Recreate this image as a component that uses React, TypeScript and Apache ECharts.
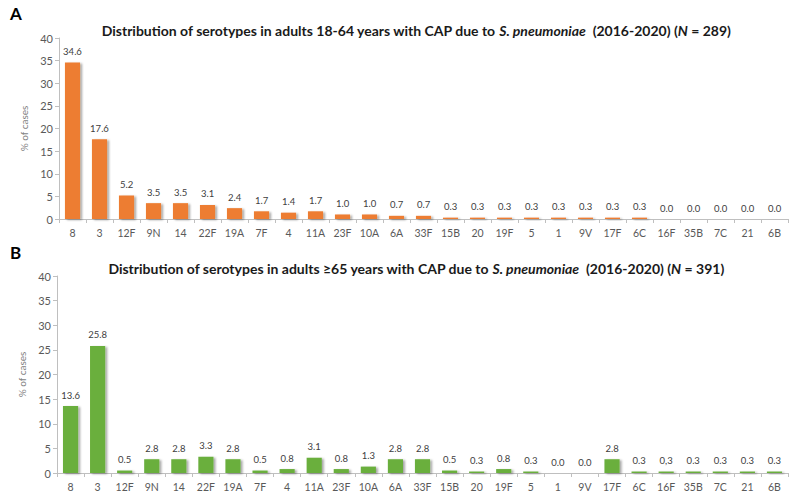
import React, { useEffect, useRef } from "react";
import * as echarts from "echarts";

const categories = ["8", "3", "12F", "9N", "14", "22F", "19A", "7F", "4", "11A", "23F", "10A", "6A", "33F", "15B", "20", "19F", "5", "1", "9V", "17F", "6C", "16F", "35B", "7C", "21", "6B"];
const valuesA = [34.6, 17.6, 5.2, 3.5, 3.5, 3.1, 2.4, 1.7, 1.4, 1.7, 1.0, 1.0, 0.7, 0.7, 0.3, 0.3, 0.3, 0.3, 0.3, 0.3, 0.3, 0.3, 0.0, 0.0, 0.0, 0.0, 0.0];
const valuesB = [13.6, 25.8, 0.5, 2.8, 2.8, 3.3, 2.8, 0.5, 0.8, 3.1, 0.8, 1.3, 2.8, 2.8, 0.5, 0.3, 0.8, 0.3, 0.0, 0.0, 2.8, 0.3, 0.3, 0.3, 0.3, 0.3, 0.3];
const labelsB = ["13.6", "25.8", "0.5", "2.8", "2.8", "3.3", "2.8", "0.5", "0.8", "3.1", "0.8", "1.3", "2.8", "2.8", "0.5", "0.3", "0.8", "0.3", "0.0", "0.0", "2.8", "0.3", "0,3", "0.3", "0.3", "0.3", "0.3"];
const titleA = "Distribution of serotypes in adults 18-64 years with CAP due to {i|S. pneumoniae}  (2016-2020) ({i|N} = 289)";
const titleB = "Distribution of serotypes in adults \u226565 years with CAP due to {i|S. pneumoniae}  (2016-2020) ({i|N} = 391)";

const FONT = "Lato, 'Open Sans', sans-serif";

export default function App() {
  const ref = useRef<HTMLDivElement>(null);
  useEffect(() => {
    if (!ref.current) return;
    const chart = echarts.init(ref.current, null, { renderer: "svg" });
    const titleStyle = {
      fontFamily: FONT,
      fontSize: 14,
      fontWeight: "bold",
      color: "#1a1a1a",
      rich: {
        i: { fontFamily: FONT, fontSize: 14, fontWeight: "bold", fontStyle: "italic", color: "#1a1a1a" },
      },
    };
    const yAxisBase = {
      type: "value",
      min: 0,
      max: 40,
      interval: 5,
      name: "% of cases",
      nameLocation: "middle",
      nameGap: 26,
      nameTextStyle: { color: "#7f7f7f", fontSize: 10, fontFamily: FONT },
      splitLine: { show: false },
      axisLine: { show: true, lineStyle: { color: "#bfbfbf" } },
      axisTick: { show: true, length: 4, lineStyle: { color: "#bfbfbf" } },
      axisLabel: { color: "#595959", fontSize: 11, fontFamily: FONT, margin: 6 },
    };
    const xAxisBase = {
      type: "category",
      data: categories,
      axisLine: { lineStyle: { color: "#bfbfbf" } },
      axisTick: { show: true, length: 4, lineStyle: { color: "#bfbfbf" } },
      axisLabel: { color: "#595959", fontSize: 10.5, fontFamily: FONT, margin: 8, interval: 0 },
    };
    const barItem = (color: string) => ({
      color,
      shadowColor: "rgba(0,0,0,0.35)",
      shadowBlur: 2,
      shadowOffsetX: 2,
      shadowOffsetY: 1,
    });
    chart.setOption({
      animation: false,
      textStyle: { fontFamily: FONT },
      title: [
        { text: "A", left: 5, top: 0, textStyle: { fontFamily: FONT, fontSize: 17, fontWeight: "bold", color: "#000" } },
        { text: titleA, left: 411, top: 18, textAlign: "center", textStyle: titleStyle },
        { text: "B", left: 5, top: 239, textStyle: { fontFamily: FONT, fontSize: 17, fontWeight: "bold", color: "#000" } },
        { text: titleB, left: 411, top: 256, textAlign: "center", textStyle: titleStyle },
      ],
      grid: [
        { left: 59, right: 7, top: 38, height: 181 },
        { left: 57, right: 7, top: 276, height: 197 },
      ],
      xAxis: [
        { ...xAxisBase, gridIndex: 0 },
        { ...xAxisBase, gridIndex: 1 },
      ],
      yAxis: [
        { ...yAxisBase, gridIndex: 0 },
        { ...yAxisBase, gridIndex: 1 },
      ],
      series: [
        {
          type: "bar",
          xAxisIndex: 0,
          yAxisIndex: 0,
          data: valuesA,
          barCategoryGap: "44%",
          itemStyle: barItem("#ed7d31"),
          label: {
            show: true,
            position: "top",
            distance: 6,
            color: "#404040",
            fontSize: 9.5,
            fontFamily: FONT,
            formatter: (p: any) => Number(p.value).toFixed(1),
          },
        },
        {
          type: "bar",
          xAxisIndex: 1,
          yAxisIndex: 1,
          data: valuesB,
          barCategoryGap: "44%",
          itemStyle: barItem("#6aaf3d"),
          label: {
            show: true,
            position: "top",
            distance: 6,
            color: "#404040",
            fontSize: 9.5,
            fontFamily: FONT,
            formatter: (p: any) => labelsB[p.dataIndex],
          },
        },
      ],
    });
    return () => chart.dispose();
  }, []);
  return <div ref={ref} style={{ position: "absolute", left: 0, top: 0, width: 795, height: 500, background: "#fff" }} />;
}
